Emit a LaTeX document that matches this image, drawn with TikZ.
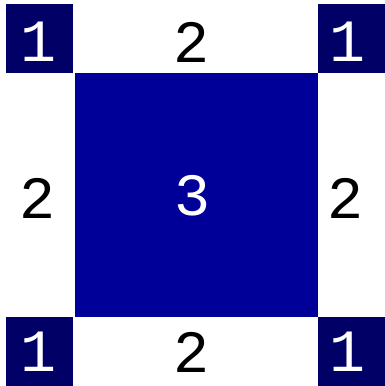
\documentclass[tikz,border=0pt]{standalone}
\usepackage{fontspec}
\setmonofont{Liberation Mono}
\definecolor{cornerblue}{RGB}{0,0,102}
\definecolor{midblue}{RGB}{0,0,153}
\begin{document}
\begin{tikzpicture}[x=1pt, y=-1pt]
	\useasboundingbox (0,0) rectangle (385,386);
	\tikzset{digit/.style={font=\ttfamily\fontsize{60}{60}\selectfont, inner sep=0pt}}
	% centre block
	\fill[midblue] (75,73) rectangle (318,317);
	\node[digit, white] (mid) at (193,196) {3};
	% corner blocks
	\foreach \x / \y / \n in {6/4/tl, 318/4/tr, 6/317/bl, 318/317/br} {
		\fill[cornerblue] (\x,\y) rectangle ++(67,69);
	}
	\foreach \x / \y / \n in {39/42/tl, 348/42/tr, 39/352/bl, 348/352/br} {
		\node[digit, white] (c\n) at (\x,\y) {1};
	}
	% edge labels
	\foreach \x / \y / \n in {192/42/top, 38/198/left, 346/198/right, 192/352/bottom} {
		\node[digit, black] (e\n) at (\x,\y) {2};
	}
\end{tikzpicture}
\end{document}
